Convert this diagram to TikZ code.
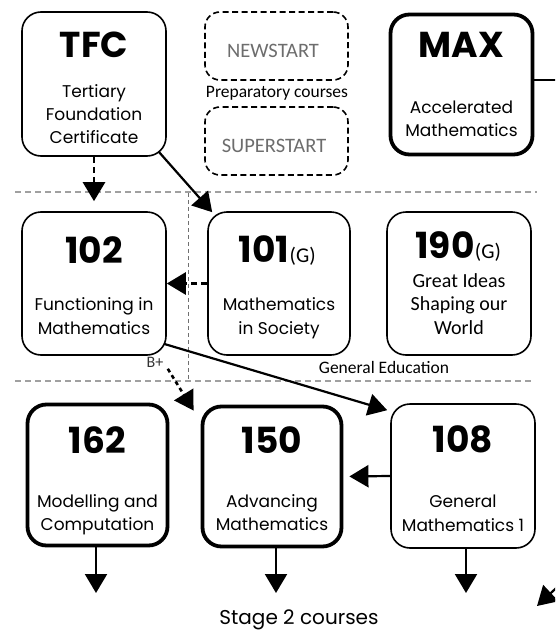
\documentclass[tikz,border=0pt]{standalone}
\usepackage{fontspec}
\setmainfont{Poppins}
\newfontfamily\calfont{Carlito}
\usetikzlibrary{arrows.meta,calc}
\definecolor{gtxt}{HTML}{6D6D6D}
\definecolor{gdash}{HTML}{A0A0A0}
\definecolor{vdash}{HTML}{707070}
\begin{document}
\begin{tikzpicture}[x=1pt,y=-1pt,
  box/.style={draw, rounded corners=19pt, line width=1.6pt, inner sep=0pt},
  thickbox/.style={box, line width=3.8pt},
  prepbox/.style={draw, rounded corners=15pt, line width=1.6pt, dash pattern=on 6pt off 3.5pt, inner sep=0pt, minimum width=143pt, minimum height=68pt},
  title/.style={anchor=base, inner sep=0pt, font=\bfseries\fontsize{36}{36}\selectfont},
  desc/.style={anchor=base, inner sep=0pt, font=\fontsize{17}{20}\selectfont},
  cdesc/.style={anchor=base, inner sep=0pt, font=\calfont\fontsize{20}{22}\selectfont},
  gsub/.style={anchor=base west, inner sep=0pt, font=\calfont\fontsize{21}{21}\selectfont},
  tip/.style={-{Triangle[length=19pt,width=22pt]}},
  conn/.style={tip, line width=2.2pt},
  dconn/.style={tip, line width=2.6pt, dash pattern=on 6pt off 4pt},
  bconn/.style={tip, line width=2.6pt, dash pattern=on 4pt off 3.5pt},
  sep/.style={gdash, line width=1.5pt, dash pattern=on 6pt off 4pt},
]
\useasboundingbox (0,0) rectangle (555,632);
\clip (0,0) rectangle (555,632);

% separators
\draw[sep] (15,192) -- (537,192);
\draw[sep] (15,381) -- (532,381);
\draw[vdash, line width=1pt, dash pattern=on 4pt off 3pt] (188,193) -- (188,381);

% boxes
\node[box, minimum width=144pt, minimum height=144pt] (tfc) at (94,84) {};
\node[prepbox] (newstart) at (276.5,46) {};
\node[prepbox] (superstart) at (276.5,141) {};
\node[thickbox, minimum width=142pt, minimum height=140pt] (max) at (461.5,84.5) {};
\node[box, minimum width=144pt, minimum height=143pt] (f102) at (94,283.5) {};
\node[box, minimum width=142pt, minimum height=143pt] (m101) at (279,283.5) {};
\node[box, minimum width=144pt, minimum height=143pt] (g190) at (459,283.5) {};
\node[thickbox, minimum width=140pt, minimum height=141pt] (m162) at (97.5,475) {};
\node[thickbox, minimum width=139pt, minimum height=140pt] (a150) at (272,476.5) {};
\node[box, minimum width=144pt, minimum height=144pt] (g108) at (463,476) {};

% titles
\node[title] (tfcT) at (94,57) {TFC};
\node[title] (maxT) at (461.5,57) {MAX};
\node[title] (f102T) at (94,263) {102};
\node[title] (m101T) at (264,262) {101};
\node[gsub] (m101G) at (m101T.base east) {(G)};
\node[title] (g190T) at (445,258) {190};
\node[gsub] (g190G) at (g190T.base east) {(G)};
\node[title] (m162T) at (97.5,453) {162};
\node[title] (a150T) at (272,453) {150};
\node[title] (g108T) at (463,452) {108};

% descriptions
\node[desc] (tfc1) at (94,97) {Tertiary};
\node[desc] (tfc2) at (94,120) {Foundation};
\node[desc] (tfc3) at (94,143) {Certificate};
\node[desc] (max1) at (461.5,113) {Accelerated};
\node[desc] (max2) at (461.5,136) {Mathematics};
\node[desc] (f1021) at (94,310) {Functioning in};
\node[desc] (f1022) at (94,334) {Mathematics};
\node[desc] (m1011) at (279,310) {Mathematics};
\node[desc] (m1012) at (279,334) {in Society};
\node[cdesc] (g1901) at (459,287) {Great Ideas};
\node[cdesc] (g1902) at (459,310) {Shaping our};
\node[cdesc] (g1903) at (459,334) {World};
\node[desc] (m1621) at (97.5,507) {Modelling and};
\node[desc] (m1622) at (97.5,530) {Computation};
\node[desc] (a1501) at (272,507) {Advancing};
\node[desc] (a1502) at (272,530) {Mathematics};
\node[desc] (g1081) at (463,507) {General};
\node[desc] (g1082) at (463,531) {Mathematics 1};

% prep texts
\node[anchor=base, inner sep=0pt, text=gtxt, font=\calfont\fontsize{20.5}{20}\selectfont] (newT) at (273,57) {NEWSTART};
\node[anchor=base, inner sep=0pt, text=gtxt, font=\calfont\fontsize{20.5}{20}\selectfont] (supT) at (274,152) {SUPERSTART};
\node[anchor=base, inner sep=0pt, font=\calfont\fontsize{17.5}{17.5}\selectfont] (prepL) at (277,97) {Preparatory courses};
\node[anchor=base, inner sep=0pt, font=\calfont\fontsize{17.5}{17.5}\selectfont] (genL) at (384,373) {General Education};
\node[anchor=base, inner sep=0pt, font=\fontsize{20}{20}\selectfont] (stage) at (299,624) {Stage 2 courses};

% free ends
\coordinate (s1) at (96,593);
\coordinate (s2) at (276,593);
\coordinate (s3) at (466,593);
\coordinate (maxe) at ([yshift=4.5pt]max.east);
\coordinate (maxout) at (600,80);
\coordinate (inA) at (585,561);
\coordinate (inB) at (537,606);

% connectors
\draw[dconn, shorten >=10pt] (tfc.south) -- (f102.north);
\draw[conn] ([shift={(-8,-5)}]tfc.south east) -- ([shift={(5,1)}]m101.north west);
\draw[dconn] (m101.west) -- (f102.east);
\draw[conn] ([shift={(-3,-12)}]f102.south east) -- ([shift={(-3,7)}]g108.north west);
\draw[bconn] ([shift={(1,13)}]f102.south east) -- ([shift={(-7,6)}]a150.north west);
\node[anchor=center, inner sep=0pt, text=black!80, font=\calfont\fontsize{16}{16}\selectfont] (bplus) at (155,362) {B+};
\draw[conn, shorten >=6pt] (g108.west) -- (a150.east);
\draw[conn] (s1 |- m162.south) -- (s1);
\draw[conn] (s2 |- a150.south) -- (s2);
\draw[conn] (s3 |- g108.south) -- (s3);
\draw[line width=2.2pt] (maxe) -- (maxe -| maxout);
\draw[conn] (inA) -- (inB);
\end{tikzpicture}
\end{document}
